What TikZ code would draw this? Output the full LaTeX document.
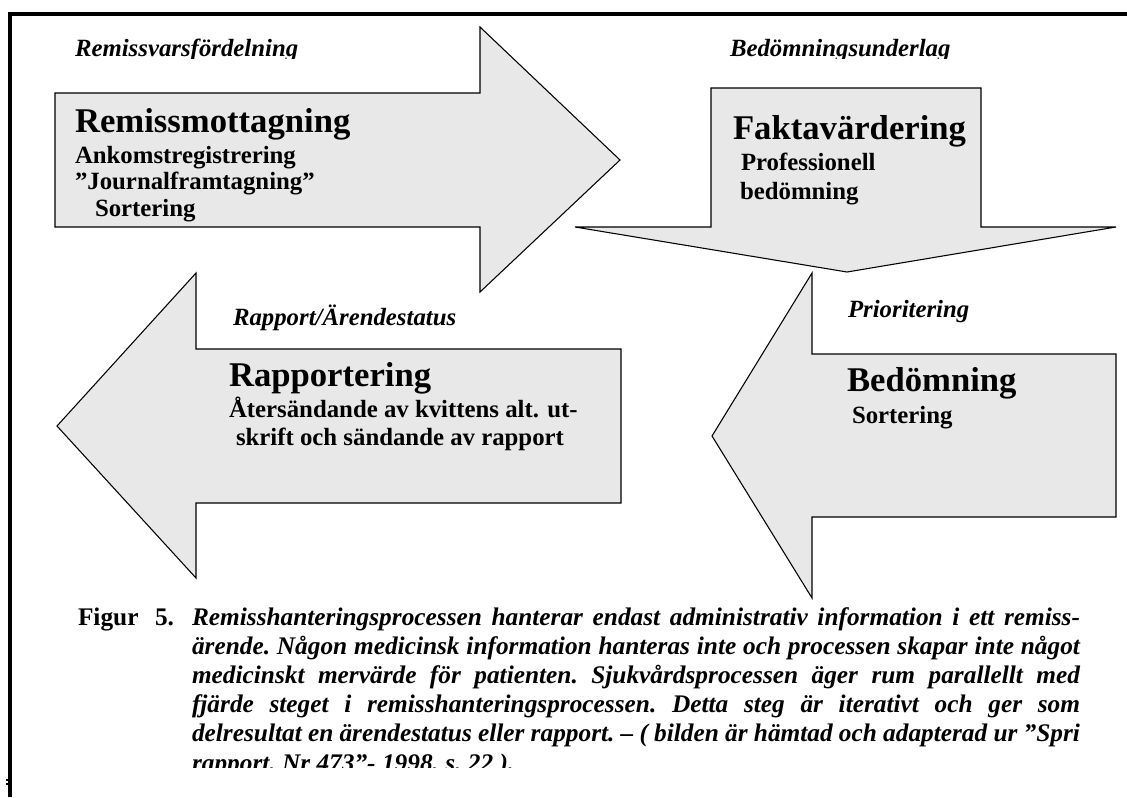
\documentclass[tikz,border=0pt]{standalone}
\usepackage{fontspec}
\setmainfont{Liberation Serif}
\definecolor{arrowgray}{RGB}{232,232,232}
\newcommand\fBig{\fontsize{26pt}{30pt}\selectfont\bfseries}
\newcommand\fMid{\fontsize{18.6pt}{21pt}\selectfont\bfseries}
\newcommand\fHdr{\fontsize{18.6pt}{21pt}\selectfont\bfseries\itshape}
\newcommand\fCap{\fontsize{19pt}{22pt}\selectfont\bfseries\itshape\frenchspacing}
\newcommand\fCapUp{\fontsize{19pt}{22pt}\selectfont\bfseries}
\begin{document}
\begin{tikzpicture}[x=0.75pt,y=-0.75pt,
  blockarrow/.style={fill=arrowgray,draw=black,line width=0.8pt,line join=miter},
  txt/.style={anchor=base west,inner sep=0pt,outer sep=0pt},
  frameline/.style={line width=3.4pt}]
\path[use as bounding box] (0,0) rectangle (1127,797);
% frame
\draw[frameline] (8,14) -- (1127,14);
\draw[frameline] (10,12) -- (10,797);
\fill (5.5,779) rectangle (7.5,780.5);
\fill (5.5,783) rectangle (7.5,784.5);
% arrows
\draw[blockarrow] (55,93) -- (480,93) -- (480,27) -- (620,160) -- (480,292) -- (480,227) -- (55,227) -- cycle;
\draw[blockarrow] (711,88) -- (981,88) -- (981,227) -- (1116,227) -- (847,272) -- (575,227) -- (711,227) -- cycle;
\draw[blockarrow] (1116,354) -- (812,354) -- (812,273) -- (712,436) -- (812,598) -- (812,517) -- (1116,517) -- cycle;
\draw[blockarrow] (621,349) -- (196,349) -- (196,273) -- (57,426) -- (196,578) -- (196,503) -- (621,503) -- cycle;
% headers (clipped at bottom)
\begin{scope}
\clip (0,0) rectangle (1127,58);
\node[txt,font=\fHdr] (h1) at (75,56) {Remissvarsfördelning};
\node[txt,font=\fHdr] (h2) at (730,56) {Bedömningsunderlag};
\end{scope}
\node[txt,font=\fHdr] (h3) at (233,325) {Rapport/Ärendestatus};
\node[txt,font=\fHdr] (h4) at (848,317) {Prioritering};
% arrow 1 text
\node[txt,font=\fBig] (t1) at (75,132) {Remissmottagning};
\node[txt,font=\fMid] (t1a) at (75,163) {Ankomstregistrering};
\node[txt,font=\fMid] (t1b) at (75,189) {”Journalframtagning”};
\begin{scope}
\clip (55,195) rectangle (480,221);
\node[txt,font=\fMid] (t1c) at (95,216) {Sortering};
\end{scope}
% arrow 2 text
\node[txt,font=\fBig] (t2) at (733,139) {Faktavärdering};
\node[txt,font=\fMid] (t2a) at (741,170) {Professionell};
\node[txt,font=\fMid] (t2b) at (740,199) {bedömning};
% arrow 4 text
\node[txt,font=\fBig] (t4) at (229,386) {Rapportering};
\node[txt,font=\fMid] (t4a) at (229,417) {Återsändande av kvittens alt. ut-};
\node[txt,font=\fMid] (t4b) at (236,445) {skrift och sändande av rapport};
% arrow 3 text
\node[txt,font=\fBig] (t3) at (847,391) {Bedömning};
\node[txt,font=\fMid] (t3a) at (852,423) {Sortering};
% caption
\node[txt,font=\fCapUp] (cf) at (78,625) {Figur};
\node[txt,font=\fCapUp] (cn) at (155,625) {5.};
\node[txt,font=\fCap] (c1) at (192,625) {\makebox[666pt][s]{Remisshanteringsprocessen hanterar endast administrativ information i ett remiss-}};
\node[txt,font=\fCap] (c2) at (192,654.2) {\makebox[666pt][s]{ärende. Någon medicinsk information hanteras inte och processen skapar inte något}};
\node[txt,font=\fCap] (c3) at (192,683.4) {\makebox[666pt][s]{medicinskt mervärde för patienten. Sjukvårdsprocessen äger rum parallellt med}};
\node[txt,font=\fCap] (c4) at (192,712.6) {\makebox[666pt][s]{fjärde steget i remisshanteringsprocessen. Detta steg är iterativt och ger som}};
\node[txt,font=\fCap] (c5) at (192,741.8) {\makebox[666pt][s]{delresultat en ärendestatus eller rapport. – ( bilden är hämtad och adapterad ur ”Spri}};
\begin{scope}
\clip (0,750) rectangle (1127,767);
\node[txt,font=\fCap] (c6) at (192,771) {rapport. Nr 473”- 1998, s. 22 ).};
\end{scope}
\end{tikzpicture}
\end{document}
